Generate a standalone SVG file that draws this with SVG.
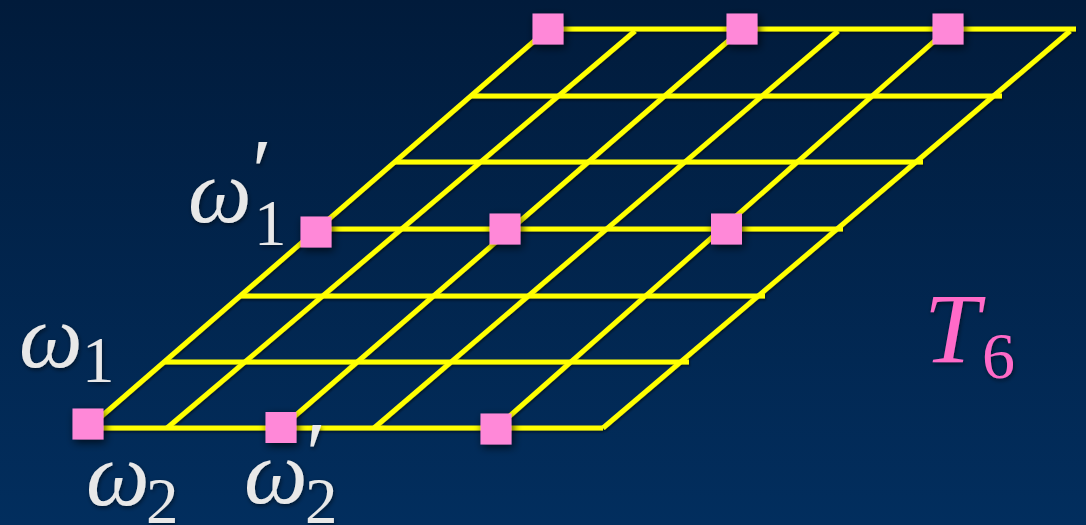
<svg xmlns="http://www.w3.org/2000/svg" width="1086" height="525" viewBox="0 0 1086 525">
  <defs>
    <linearGradient id="bg" x1="0" y1="0" x2="0" y2="1">
      <stop offset="0" stop-color="#011b3b"/>
      <stop offset="1" stop-color="#022e5e"/>
    </linearGradient>
    <filter id="lineShadow" x="-5%" y="-5%" width="110%" height="110%">
      <feDropShadow dx="1" dy="2" stdDeviation="1" flood-color="#000" flood-opacity="0.45"/>
    </filter>
    <filter id="sqShadow" x="-50%" y="-50%" width="200%" height="200%">
      <feDropShadow dx="2" dy="3" stdDeviation="4" flood-color="#000" flood-opacity="0.7"/>
    </filter>
    <filter id="txtShadow" x="-20%" y="-20%" width="140%" height="140%">
      <feDropShadow dx="1" dy="2" stdDeviation="2" flood-color="#000" flood-opacity="0.5"/>
    </filter>
  </defs>
  <style>
    .grid line { stroke: #ffff00; stroke-width: 5; stroke-linecap: butt; }
    .sq { fill: #ff88d8; filter: url(#sqShadow); }
    .lbl { fill: #e8e8e8; filter: url(#txtShadow); }
    .t { fill: #ff6ac8; }
  </style>
  <rect width="1086" height="525" fill="url(#bg)"/>

  <g id="connectors" class="grid" filter="url(#lineShadow)">
    <line x1="88" y1="428" x2="603" y2="428"/>
    <line x1="164" y1="362" x2="689" y2="362"/>
    <line x1="240" y1="296" x2="765" y2="296"/>
    <line x1="317" y1="229" x2="843" y2="229"/>
    <line x1="395" y1="162" x2="923" y2="162"/>
    <line x1="471" y1="96" x2="1002" y2="96"/>
    <line x1="548" y1="29" x2="1076" y2="29"/>
    <line x1="88" y1="428" x2="548" y2="29"/>
    <line x1="167" y1="428" x2="635" y2="31"/>
    <line x1="281" y1="428" x2="742" y2="29"/>
    <line x1="374" y1="428" x2="838" y2="31"/>
    <line x1="496" y1="428" x2="948" y2="29"/>
    <line x1="603" y1="428" x2="1070" y2="31"/>
  </g>

  <g id="node-b1"><rect class="sq" x="72.5" y="408.5" width="31" height="31"/></g>
  <g id="node-b2"><rect class="sq" x="265.5" y="412" width="31" height="31"/></g>
  <g id="node-b3"><rect class="sq" x="480.5" y="413.5" width="31" height="31"/></g>
  <g id="node-m1"><rect class="sq" x="300.5" y="216.5" width="31" height="31"/></g>
  <g id="node-m2"><rect class="sq" x="489.5" y="213.5" width="31" height="31"/></g>
  <g id="node-m3"><rect class="sq" x="711" y="213.5" width="31" height="31"/></g>
  <g id="node-t1"><rect class="sq" x="532.5" y="13.5" width="31" height="31"/></g>
  <g id="node-t2"><rect class="sq" x="726.5" y="13.5" width="31" height="31"/></g>
  <g id="node-t3"><rect class="sq" x="932.5" y="13.5" width="31" height="31"/></g>

  <g id="txt-w1" class="lbl">
    <text x="19" y="367" font-family="Liberation Serif" style="font-family:'Liberation Serif',serif" font-size="90" font-style="italic">ω</text>
    <text x="82" y="382" font-family="Liberation Serif" style="font-family:'Liberation Serif',serif" font-size="65">1</text>
  </g>
  <g id="txt-w1p" class="lbl">
    <text x="188" y="222" font-family="Liberation Serif" style="font-family:'Liberation Serif',serif" font-size="90" font-style="italic">ω</text>
    <text x="252" y="202" font-family="Liberation Serif" style="font-family:'Liberation Serif',serif" font-size="90">′</text>
    <text x="254" y="245" font-family="Liberation Serif" style="font-family:'Liberation Serif',serif" font-size="65">1</text>
  </g>
  <g id="txt-w2" class="lbl">
    <text x="86" y="505" font-family="Liberation Serif" style="font-family:'Liberation Serif',serif" font-size="90" font-style="italic">ω</text>
    <text x="146" y="523" font-family="Liberation Serif" style="font-family:'Liberation Serif',serif" font-size="65">2</text>
  </g>
  <g id="txt-w2p" class="lbl">
    <text x="244" y="503" font-family="Liberation Serif" style="font-family:'Liberation Serif',serif" font-size="90" font-style="italic">ω</text>
    <text x="306" y="485" font-family="Liberation Serif" style="font-family:'Liberation Serif',serif" font-size="90">′</text>
    <text x="305" y="523" font-family="Liberation Serif" style="font-family:'Liberation Serif',serif" font-size="65">2</text>
  </g>
  <g id="txt-T6" class="lbl t">
    <text x="924" y="362" font-family="Liberation Serif" style="font-family:'Liberation Serif',serif" font-size="100" font-style="italic">T</text>
    <text x="982" y="378" font-family="Liberation Serif" style="font-family:'Liberation Serif',serif" font-size="66">6</text>
  </g>
</svg>
